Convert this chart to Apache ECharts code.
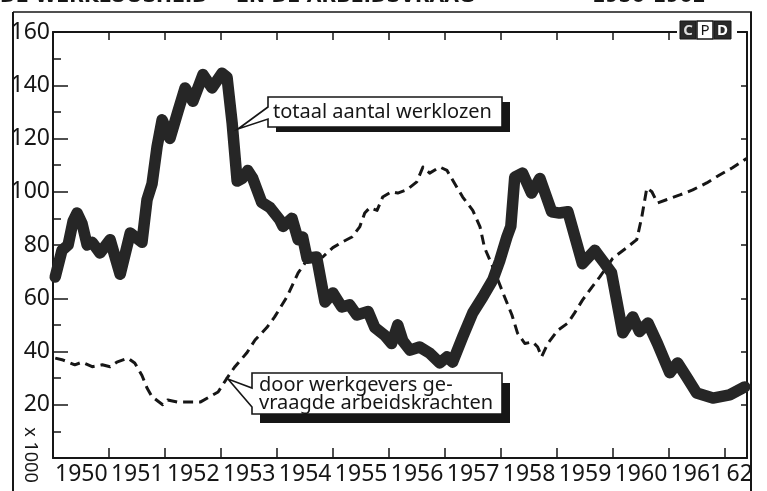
<!DOCTYPE html>
<html>
<head>
<meta charset="utf-8">
<script src="https://cdn.jsdelivr.net/npm/echarts@6/dist/echarts.min.js"></script>
<style>
html, body { margin: 0; padding: 0; background: #fff; }
#chart { width: 767px; height: 491px; }
</style>
</head>
<body>
<div id="chart"></div>
<script>
// Totaal aantal werklozen (x 1000), positions in fractional years
const totalYears = [1950.04,1950.16,1950.27,1950.36,1950.43,1950.52,1950.61,1950.70,1950.84,
  1951.02,1951.20,1951.38,1951.59,1951.68,1951.77,1951.86,1951.95,
  1952.09,1952.23,1952.36,1952.50,1952.68,1952.84,
  1953.02,1953.11,1953.20,1953.29,1953.38,1953.48,1953.57,1953.73,1953.88,
  1954.05,1954.11,1954.27,1954.38,1954.46,1954.54,1954.71,1954.82,1954.86,
  1955.00,1955.16,1955.30,1955.43,1955.63,1955.75,1955.93,
  1956.05,1956.16,1956.25,1956.38,1956.55,1956.73,1956.91,
  1957.04,1957.14,1957.32,1957.50,1957.68,1957.86,1957.98,
  1958.11,1958.18,1958.25,1958.39,1958.55,1958.70,1958.91,
  1959.05,1959.20,1959.46,1959.68,1959.86,1959.98,
  1960.18,1960.36,1960.48,1960.63,1960.80,
  1961.02,1961.16,1961.32,1961.50,1961.79,1962.09,1962.36];
const totalValues = [68,78,80,89,92,88,80,81,77,
  82,69,84.5,81,97,103,117,127,
  120,130,139,134,144,139,
  144.5,143,126,104,105,108,105,96,94,
  89.5,87,90,82,83,75,75.5,63,58.6,
  62,56.7,57.5,53.7,55,49,46,
  43,50,44,40.5,41.7,39.4,35.7,
  38,36,45.5,54.5,60.5,67,74,
  83,87,105.5,107,99.5,105,92.5,
  92,92.5,73,78,73,69.5,
  47,53,47.5,50.7,43,
  32,35.7,30.5,24.4,22.5,23.7,26.7];

// Door werkgevers gevraagde arbeidskrachten (x 1000)
const demandYears = [1950.04,1950.18,1950.39,1950.52,1950.70,1950.88,
  1951.02,1951.14,1951.34,1951.46,1951.59,1951.68,1951.77,1951.96,
  1952.05,1952.23,1952.45,1952.63,1952.80,1952.95,
  1953.11,1953.25,1953.46,1953.61,1953.82,1953.96,
  1954.18,1954.38,1954.54,1954.82,
  1955.00,1955.16,1955.34,1955.48,1955.57,1955.66,1955.79,1955.89,
  1956.05,1956.16,1956.32,1956.50,1956.61,1956.73,1956.91,
  1957.04,1957.14,1957.32,1957.50,1957.63,1957.71,1957.86,
  1958.04,1958.20,1958.30,1958.43,1958.57,1958.66,1958.73,1958.84,
  1959.02,1959.20,1959.32,1959.46,1959.63,1959.77,
  1960.00,1960.25,1960.43,1960.52,1960.61,1960.70,1960.80,1960.96,
  1961.20,1961.43,1961.68,1961.91,1962.14,1962.39];
const demandValues = [37.5,36.8,35,36,34.3,35,
  34.3,36,37.5,35.7,31,26.3,23,20,
  21.8,21,21,21,23,24.8,
  30,34.3,39.4,44.3,49,53,
  60.5,69.5,74.4,75.5,
  79,81,83,86.8,92,94,93,98,
  100,99.5,100.7,103.7,109.3,107,109.3,
  108,104.4,98,93,86.8,79,71.7,
  62,53.7,46.9,43,43.6,41.7,38,43,
  48,50.7,54.5,59.3,64.2,68,
  75,79,82,90.5,101.4,100,95.8,97,
  98.8,100.7,103.3,106.3,109,112.5];

const yearLabels = [1950,1951,1952,1953,1954,1955,1956,1957,1958,1959,1960,1961,1962];
const yearTicks = [1951,1952,1953,1954,1955,1956,1957,1958,1959,1960,1961,1962];
const shortYear = { 1962: '62' };

const totalLabel = 'totaal aantal werklozen';
const demandLabel = 'door werkgevers ge-\nvraagde arbeidskrachten';
const unitLabel = 'x 1000';
const titleWords = [['DE WERKLOOSHEID', 0], ['EN DE ARBEIDSVRAAG', 236], ['1950-1962', 592]];

const FONT = "'Noto Sans', 'DejaVu Sans', sans-serif";
const INK = '#161616';

const zip = (xs, ys) => xs.map((x, i) => [x, ys[i]]);

const chart = echarts.init(document.getElementById('chart'), null, { renderer: 'canvas' });

// callout box outline with a pointer wedge on its left side
function calloutShape(x, y, w, h, tip, j1, j2) {
  return [[x, y], [x + w, y], [x + w, y + h], [x, y + h], [x, j2], tip, [x, j1]];
}

const graphics = [
  // outer frame
  { type: 'line', shape: { x1: 13, y1: 12, x2: 13, y2: 491 }, style: { stroke: INK, lineWidth: 2 }, silent: true },
  { type: 'line', shape: { x1: 13, y1: 12, x2: 752, y2: 12 }, style: { stroke: INK, lineWidth: 1.5 }, silent: true },
  { type: 'line', shape: { x1: 751, y1: 12, x2: 751, y2: 491 }, style: { stroke: INK, lineWidth: 2 }, silent: true },
  // unit
  { type: 'text', x: 30, y: 455, rotation: -Math.PI / 2,
    style: { text: unitLabel, font: "18px " + FONT, fill: INK, align: 'center', verticalAlign: 'middle' }, silent: true },
  // callout: total unemployed
  { type: 'rect', shape: { x: 276, y: 102, width: 234, height: 30 }, style: { fill: INK }, z: 10, silent: true },
  { type: 'polygon', shape: { points: calloutShape(268, 97, 234, 30, [238, 129], 107, 119) },
    style: { fill: '#fff', stroke: INK, lineWidth: 1.6 }, z: 11, silent: true },
  { type: 'text', x: 273, y: 112, z: 12,
    style: { text: totalLabel, font: "20px " + FONT, fill: INK, align: 'left', verticalAlign: 'middle' }, silent: true },
  // callout: vacancies
  { type: 'rect', shape: { x: 260, y: 383, width: 250, height: 40 }, style: { fill: INK }, z: 10, silent: true },
  { type: 'polygon', shape: { points: calloutShape(252, 373, 250, 41, [228, 379], 388, 407) },
    style: { fill: '#fff', stroke: INK, lineWidth: 1.6 }, z: 11, silent: true },
  { type: 'text', x: 259, y: 394, z: 12,
    style: { text: demandLabel, font: "20px " + FONT, fill: INK, align: 'left', verticalAlign: 'middle', lineHeight: 18 }, silent: true },
  // CPD mark
  { type: 'rect', shape: { x: 677, y: 19, width: 60, height: 22 }, style: { fill: '#fff' }, z: 20, silent: true },
  { type: 'rect', shape: { x: 680, y: 21, width: 16, height: 18 }, style: { fill: '#2a2a2a', stroke: INK, lineWidth: 1 }, z: 21, silent: true },
  { type: 'rect', shape: { x: 697, y: 21, width: 16, height: 18 }, style: { fill: '#fff', stroke: INK, lineWidth: 1.5 }, z: 21, silent: true },
  { type: 'rect', shape: { x: 714, y: 21, width: 17, height: 18 }, style: { fill: '#2a2a2a', stroke: INK, lineWidth: 1 }, z: 21, silent: true },
  { type: 'text', x: 688, y: 30.5, z: 22, style: { text: 'C', font: "bold 15px " + FONT, fill: '#ddd', align: 'center', verticalAlign: 'middle' }, silent: true },
  { type: 'text', x: 705, y: 30.5, z: 22, style: { text: 'P', font: "15px " + FONT, fill: INK, align: 'center', verticalAlign: 'middle' }, silent: true },
  { type: 'text', x: 722.5, y: 30.5, z: 22, style: { text: 'D', font: "bold 15px " + FONT, fill: '#fff', align: 'center', verticalAlign: 'middle' }, silent: true }
];
titleWords.forEach(([w, x]) => {
  graphics.push({ type: 'text', x: x, y: -3,
    style: { text: w, font: "bold 19px 'DejaVu Sans', sans-serif", fill: INK, align: 'left', verticalAlign: 'middle' }, silent: true });
});

const option = {
  animation: false,
  backgroundColor: '#fff',
  grid: { left: 53, right: 20, top: 32, bottom: 33, containLabel: false },
  xAxis: [
    {
      type: 'value', position: 'bottom', min: 1950, max: 1962.4,
      splitLine: { show: false },
      axisLine: { onZero: false, lineStyle: { color: INK, width: 2 } },
      axisTick: { customValues: yearTicks, inside: true, length: 10, lineStyle: { color: INK, width: 1.5 } },
      axisLabel: {
        customValues: yearLabels, align: 'left', margin: 5, padding: [0, 0, 0, 2],
        color: INK, fontFamily: FONT, fontSize: 23,
        formatter: v => shortYear[v] || String(v)
      }
    },
    {
      type: 'value', position: 'top', min: 1950, max: 1962.4,
      splitLine: { show: false },
      axisLine: { onZero: false, lineStyle: { color: INK, width: 2 } },
      axisTick: { customValues: yearTicks, inside: true, length: 8, lineStyle: { color: INK, width: 1.5 } },
      axisLabel: { show: false }
    }
  ],
  yAxis: [
    {
      type: 'value', position: 'left', min: 0, max: 160, interval: 20,
      splitLine: { show: false },
      axisLine: { show: true, lineStyle: { color: INK, width: 2 } },
      axisTick: { show: true, inside: true, length: 15, lineStyle: { color: INK, width: 1.5 } },
      minorTick: { show: true, splitNumber: 2, length: 8, lineStyle: { color: INK, width: 1.5 } },
      axisLabel: { margin: 3, color: INK, fontFamily: FONT, fontSize: 23, formatter: v => v === 0 ? '' : String(v) }
    },
    {
      type: 'value', position: 'right', min: 0, max: 160, interval: 20,
      splitLine: { show: false },
      axisLine: { show: true, lineStyle: { color: INK, width: 2 } },
      axisTick: { show: true, inside: true, length: 6, lineStyle: { color: INK, width: 1.5 } },
      axisLabel: { show: false }
    }
  ],
  series: [
    {
      name: 'door werkgevers gevraagde arbeidskrachten',
      type: 'line', xAxisIndex: 0, yAxisIndex: 0,
      data: zip(demandYears, demandValues),
      symbol: 'none', z: 3,
      lineStyle: { color: INK, width: 3, type: [10, 6], cap: 'butt', join: 'round' }
    },
    {
      name: 'totaal aantal werklozen',
      type: 'line', xAxisIndex: 0, yAxisIndex: 0,
      data: zip(totalYears, totalValues),
      symbol: 'none', z: 4,
      lineStyle: { color: '#262626', width: 11.5, cap: 'round', join: 'round' }
    }
  ],
  graphic: graphics
};

chart.setOption(option);
</script>
</body>
</html>
